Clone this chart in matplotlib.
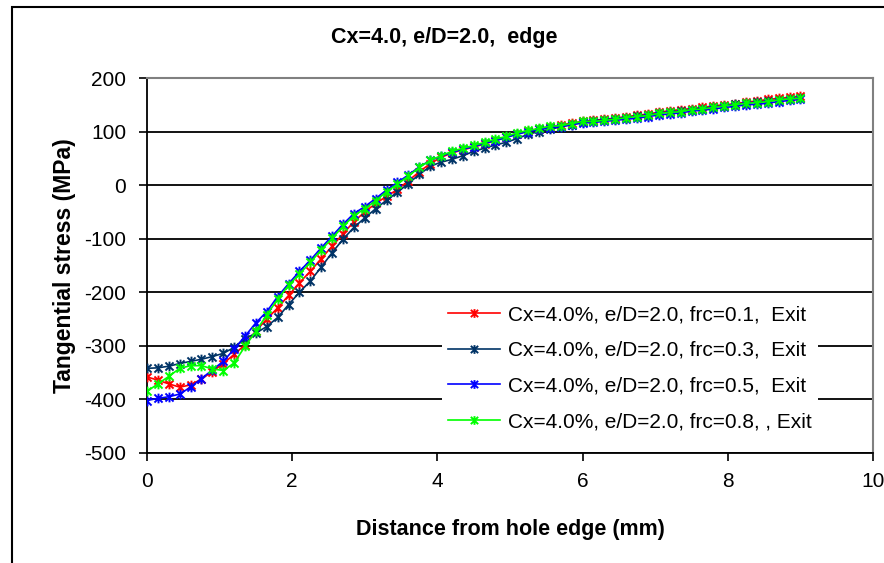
import matplotlib
matplotlib.use('Agg')
import matplotlib.pyplot as plt
from matplotlib.path import Path
from matplotlib.patches import Rectangle

plt.rcParams['font.family'] = ['Liberation Sans', 'DejaVu Sans']
plt.rcParams['axes.unicode_minus'] = False

# distance from hole edge (mm)
x_mm = [0.00, 0.15, 0.30, 0.45, 0.60, 0.75, 0.90, 1.05, 1.20, 1.35,
        1.50, 1.65, 1.80, 1.95, 2.10, 2.25, 2.40, 2.55, 2.70, 2.85,
        3.00, 3.15, 3.30, 3.45, 3.60, 3.75, 3.90, 4.05, 4.20, 4.35,
        4.50, 4.65, 4.80, 4.95, 5.10, 5.25, 5.40, 5.55, 5.70, 5.85,
        6.00, 6.15, 6.30, 6.45, 6.60, 6.75, 6.90, 7.05, 7.20, 7.35,
        7.50, 7.65, 7.80, 7.95, 8.10, 8.25, 8.40, 8.55, 8.70, 8.85,
        9.00]

# tangential stress (MPa)
frc_01 = [-358, -364, -371, -377, -373, -362, -348, -333, -316, -298,
          -272, -250, -229, -206, -182, -161, -137, -114, -91, -68,
          -50, -34, -21, -8, 8, 25, 40, 52, 60, 66,
          71, 77, 83, 90, 96, 101, 105, 109, 112, 116,
          119, 121, 123, 125, 128, 130, 133, 136, 139, 141,
          143, 145, 148, 150, 152, 155, 157, 160, 162, 164,
          166]
frc_03 = [-342, -341, -338, -333, -329, -325, -320, -314, -303, -287,
          -276, -264, -247, -223, -200, -179, -153, -126, -101, -79,
          -61, -44, -28, -13, 3, 20, 35, 43, 48, 55,
          63, 69, 75, 80, 87, 95, 100, 104, 109, 113,
          117, 120, 122, 124, 126, 129, 131, 134, 137, 138,
          141, 143, 146, 148, 151, 153, 155, 157, 159, 161,
          163]
frc_05 = [-402, -398, -395, -390, -377, -361, -345, -329, -306, -282,
          -257, -236, -208, -184, -161, -140, -117, -95, -73, -53,
          -40, -25, -9, 5, 19, 34, 46, 54, 61, 67,
          72, 78, 83, 89, 95, 100, 104, 107, 109, 113,
          116, 117, 119, 121, 123, 125, 128, 131, 133, 135,
          138, 140, 142, 145, 147, 150, 151, 153, 156, 158,
          160]
frc_08 = [-385, -371, -357, -342, -337, -337, -343, -346, -332, -301,
          -273, -242, -213, -187, -166, -144, -121, -99, -77, -57,
          -44, -29, -12, 2, 17, 33, 46, 55, 63, 69,
          74, 80, 86, 91, 98, 102, 106, 110, 111, 115,
          119, 119, 121, 123, 126, 128, 130, 134, 136, 137,
          141, 142, 145, 148, 150, 153, 154, 156, 159, 161,
          162]

labels = ['Cx=4.0%, e/D=2.0, frc=0.1,  Exit',
          'Cx=4.0%, e/D=2.0, frc=0.3,  Exit',
          'Cx=4.0%, e/D=2.0, frc=0.5,  Exit',
          'Cx=4.0%, e/D=2.0, frc=0.8, , Exit']
colors = ['#FF0000', '#003366', '#0000FF', '#00FF00']

# excel style star: an X with a vertical bar
star = Path([(-1, -1), (1, 1), (-1, 1), (1, -1), (0, -1.2), (0, 1.2)],
            [Path.MOVETO, Path.LINETO, Path.MOVETO, Path.LINETO,
             Path.MOVETO, Path.LINETO])

fig = plt.figure(figsize=(8.84, 5.63), dpi=100)
ax = fig.add_axes([147 / 884, 1 - 453 / 563, 726 / 884, 375 / 563])

for ys, lab, c in zip([frc_01, frc_03, frc_05, frc_08], labels, colors):
    ax.plot(x_mm, ys, color=c, lw=1.2, marker=star, markersize=7,
            markeredgewidth=1.4, label=lab, zorder=3)

ax.set_xlim(0, 10)
ax.set_ylim(-500, 200)
ax.set_xticks(range(0, 11, 2))
ax.set_yticks(range(-500, 201, 100))
ax.tick_params(labelsize=15, length=6, width=1.2, direction='out')
ax.tick_params(axis='x', pad=8)
ax.tick_params(axis='y', pad=9)
ax.grid(axis='y', color='black', lw=1.3)
ax.set_axisbelow(True)

for s in ['left', 'bottom']:
    ax.spines[s].set_color('black')
    ax.spines[s].set_linewidth(1.3)
for s in ['top', 'right']:
    ax.spines[s].set_color('#808080')
    ax.spines[s].set_linewidth(1.5)

ax.set_xlabel('Distance from hole edge (mm)', fontsize=15.5, fontweight='bold', labelpad=20)
ax.set_ylabel('Tangential stress (MPa)', fontsize=16.5, fontweight='bold', labelpad=6)
fig.text(0.5 * (335 + 553) / 884, 1 - 38 / 563, 'Cx=4.0, e/D=2.0,  edge',
         fontsize=15.5, fontweight='bold', ha='center', va='center')

leg = ax.legend(loc='center', bbox_to_anchor=(0.665, 0.226), fontsize=15,
                frameon=True, fancybox=False, framealpha=1, edgecolor='none',
                handlelength=2.5, handletextpad=0.35, labelspacing=0.8,
                borderpad=0.3, markerscale=0.9)

# outer chart border
fig.patches.append(Rectangle((12 / 884, -0.1), 2, 1 - 7 / 563 + 0.1,
                             transform=fig.transFigure, fill=False,
                             edgecolor='black', lw=1.5))

fig.savefig('out.png', dpi=100)
